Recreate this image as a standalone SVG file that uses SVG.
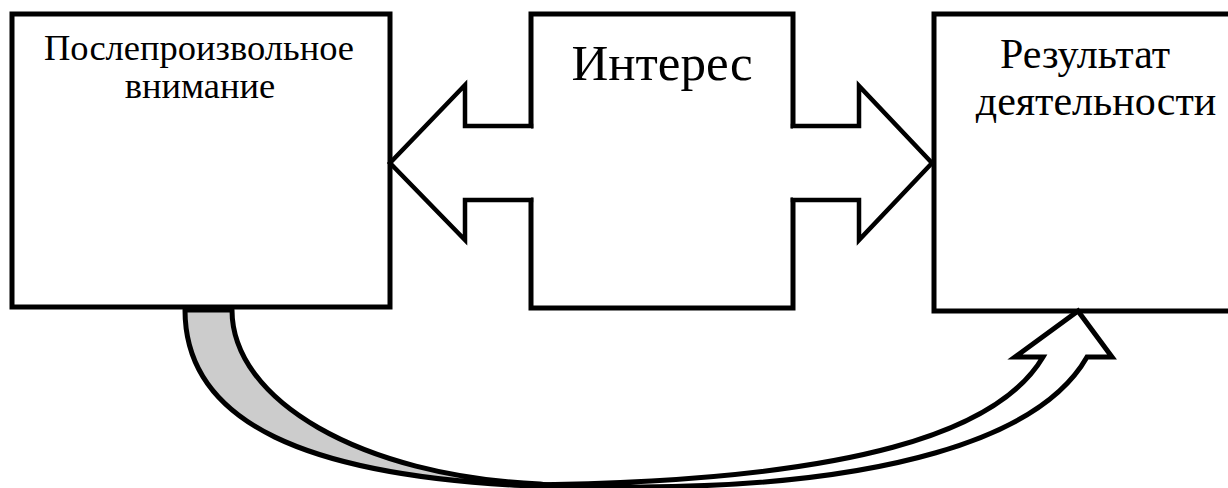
<svg xmlns="http://www.w3.org/2000/svg" width="1228" height="488" viewBox="0 0 1228 488">
<style>
.box{fill:#fff;stroke:#000;stroke-width:5}
.edge{fill:none;stroke:#000;stroke-width:5;stroke-linecap:square;stroke-linejoin:miter}
.txt{font-family:"Liberation Serif","Times New Roman",serif;fill:#000;text-anchor:middle}
.arrow{fill:#fff;stroke:#000;stroke-width:4.5;stroke-linejoin:miter;stroke-linecap:square}
.band{fill:#cccccc;stroke:#000;stroke-width:5;stroke-linejoin:round}
.band2{fill:#fff;stroke:#000;stroke-width:5;stroke-linejoin:miter}
</style>
<rect width="1228" height="488" fill="#fff"/>
<g id="node-left">
<rect class="box" x="12" y="14" width="378" height="293"/>
<text class="txt" x="199" y="60" font-size="36.5">Послепроизвольное</text>
<text class="txt" x="200" y="98" font-size="36.5">внимание</text>
</g>
<g id="node-middle">
<rect x="531" y="14" width="262" height="294" fill="#fff"/>
<path class="edge" d="M531,126 L531,14 L793,14 L793,126 M793,200 L793,308 L531,308 L531,200"/>
<text class="txt" x="662" y="80" font-size="51">Интерес</text>
</g>
<g id="node-right">
<rect class="box" x="934" y="14" width="310" height="297"/>
<text class="txt" x="1085" y="68" font-size="42">Результат</text>
<text class="txt" x="1096" y="115" font-size="42">деятельности</text>
</g>
<g id="connectors">
<path class="arrow" d="M531,126 L465,126 L465,85 L390,163 L465,240 L465,200 L531,200"/>
<path class="arrow" d="M793,126 L859,126 L859,86 L932,163 L859,240 L859,200 L793,200"/>
<path class="band" d="M185,310 C185,420 300,480 560,487 L540,484 C360,476 232,400 232,310 Z"/>
<path class="band2" d="M520,485 C860,482 1000,430 1043,357 L1015,357 L1078,311 L1112,357 L1087,357 C1040,440 880,486 640,487 Z"/>
</g>
</svg>
